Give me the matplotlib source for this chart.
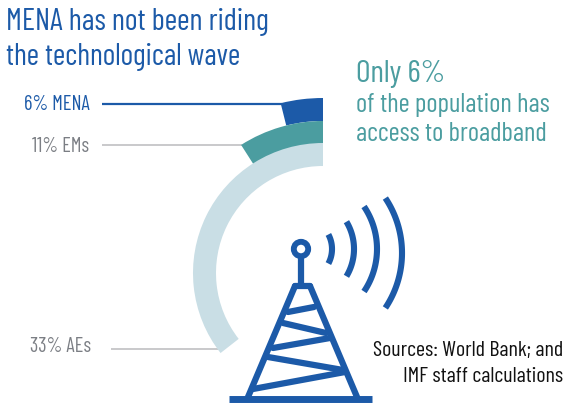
import numpy as np
import matplotlib
matplotlib.use("Agg")
import matplotlib.pyplot as plt
from matplotlib.patches import Wedge, Circle

plt.rcParams["font.family"] = ["Barlow Condensed", "Roboto", "DejaVu Sans"]

BLUE = "#1c5aa8"
TEAL = "#4b9da0"
LIGHT = "#c9dee5"
GREY = "#7b7e84"

labels = ["6% MENA", "11% EMs", "33% AEs"]
shares = [6, 11, 33]
# sweep of each band as read from the picture, not proportional to the shares
sweep_deg = [14, 32.6, 128]
band_colors = [BLUE, TEAL, LIGHT]
label_colors = [BLUE, GREY, GREY]
leader_colors = [BLUE, "#c9c9cb", "#c9c9cb"]

fig = plt.figure(figsize=(5.63, 4.03), dpi=100)
ax = fig.add_axes([0, 0, 1, 1])
ax.set_xlim(0, 563)
ax.set_ylim(403, 0)
ax.axis("off")

# bands, outermost first
cx, cy = 323, 273
r_outer = [175, 152, 130]
width = 23
for sweep, col, r in zip(sweep_deg, band_colors, r_outer):
    ax.add_patch(Wedge((cx, cy), r, 270 - sweep, 270, width=width, fc=col, ec="none", zorder=2))

# leaders and labels
label_y = [105, 146, 346]
label_x = [90, 89, 91]
leader_x = [(102, 282), (102, 242), (111, 219)]
leader_y = [104, 145, 349]
for lab, col, lcol, ly, lx, (x0, x1), y in zip(labels, label_colors, leader_colors, label_y, label_x, leader_x, leader_y):
    ax.text(lx, ly, lab, color=col, fontsize=14.6, ha="right", va="center")
    ax.plot([x0, x1], [y, y], color=lcol, lw=1.6 if col == BLUE else 1.4, solid_capstyle="butt", zorder=1)

ax.text(6, 22, "MENA has not been riding", color=BLUE, fontsize=22, ha="left", va="center")
ax.text(6, 57, "the technological wave", color=BLUE, fontsize=21.6, ha="left", va="center")

ax.text(356, 74, "Only 6%", color=TEAL, fontsize=22.8, ha="left", va="center")
ax.text(356, 105, "of the population has", color=TEAL, fontsize=19.3, ha="left", va="center")
ax.text(356, 134, "access to broadband", color=TEAL, fontsize=19.3, ha="left", va="center")

ax.text(563, 351, "Sources: World Bank; and", color="#111111", fontsize=15.9, ha="right", va="center")
ax.text(563, 377, "IMF staff calculations", color="#111111", fontsize=15.9, ha="right", va="center")

# tower icon
tower_segments = [
    ((229, 399), (372, 399), 5.0),
    ((301, 258), (301, 285), 4.5),
    ((295, 286), (310, 286), 4.5),
    ((295, 286), (248, 397), 4.5),
    ((310, 286), (357, 397), 4.5),
    ((288, 312), (314, 307), 4.5),
    ((283, 323), (326, 333), 4.5),
    ((273, 348), (330, 338), 4.5),
    ((268, 357), (343, 370), 4.5),
    ((253, 389), (345, 372), 4.5),
]
for (x0, y0), (x1, y1), lw in tower_segments:
    ax.plot([x0, x1], [y0, y1], color=BLUE, lw=lw, solid_capstyle="round" if lw < 5 else "butt", zorder=3)
ax.add_patch(Circle((301, 249), 7.2, fc="white", ec=BLUE, lw=4.2, zorder=3))

# signal arcs
arc_r = [31, 53, 76, 99]
arc_half = [28, 31, 34, 33.7]
arc_cx = [301, 301, 301, 303]
arc_cy = [249, 249, 249, 253]
for r, half, ax0, ay0 in zip(arc_r, arc_half, arc_cx, arc_cy):
    t = np.radians(np.linspace(-half, half, 60))
    ax.plot(ax0 + r * np.cos(t), ay0 + r * np.sin(t), color=BLUE, lw=4.4, solid_capstyle="butt", zorder=3)

fig.savefig("out.png", dpi=100)
